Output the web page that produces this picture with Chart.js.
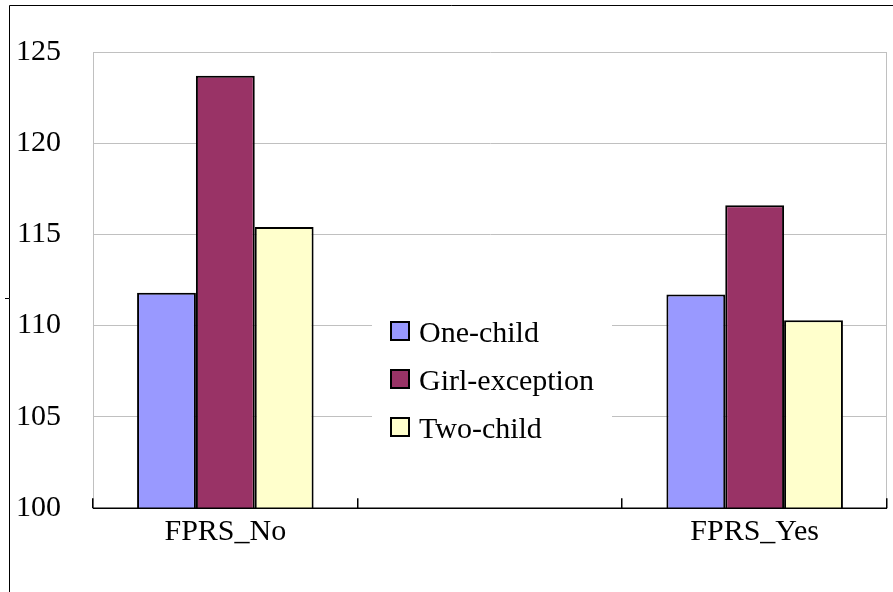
<!DOCTYPE html>
<html>
<head>
<meta charset="utf-8">
<script src="https://cdn.jsdelivr.net/npm/chart.js@4/dist/chart.umd.min.js"></script>
<style>
  html, body { margin: 0; padding: 0; background: #ffffff; }
  #wrap { width: 893px; height: 592px; position: relative; }
</style>
</head>
<body>
<div id="wrap"><canvas id="c" width="893" height="592"></canvas></div>
<script>
// ---- data ----
const categories = ['FPRS_No', '', 'FPRS_Yes'];
const oneChild = [111.8, null, 111.7];
const girlException = [123.7, null, 116.6];
const twoChild = [115.4, null, 110.3];
const seriesNames = ['One-child', 'Girl-exception', 'Two-child'];
const yTicks = [100, 105, 110, 115, 120, 125];

const FONT = '"Liberation Serif", "Times New Roman", serif';
const GRID = '#c0c0c0';

const framePlugin = {
  id: 'frame',
  beforeDraw(chart) {
    const ctx = chart.ctx;
    ctx.save();
    ctx.fillStyle = '#ffffff';
    ctx.fillRect(0, 0, chart.width, chart.height);
    // outer chart border (cropped at right/bottom)
    ctx.strokeStyle = '#000000';
    ctx.lineWidth = 1;
    ctx.beginPath();
    ctx.moveTo(9.5, chart.height);
    ctx.lineTo(9.5, 5.5);
    ctx.lineTo(chart.width, 5.5);
    ctx.stroke();
    ctx.beginPath();
    ctx.moveTo(5, 298.5);
    ctx.lineTo(9, 298.5);
    ctx.stroke();
    ctx.restore();
  },
  beforeDatasetsDraw(chart) {
    const {ctx, chartArea} = chart;
    ctx.save();
    ctx.strokeStyle = GRID;
    ctx.lineWidth = 1;
    ctx.beginPath();
    ctx.moveTo(Math.round(chartArea.right) - 0.5, chartArea.top);
    ctx.lineTo(Math.round(chartArea.right) - 0.5, chartArea.bottom);
    ctx.stroke();
    ctx.restore();
  },
  afterDatasetsDraw(chart) {
    const {ctx, chartArea} = chart;
    const xs = chart.scales.x;
    const n = chart.data.labels.length;
    ctx.save();
    ctx.strokeStyle = '#000000';
    ctx.lineWidth = 1.5;
    const yb = Math.round(chartArea.bottom) + 0.25;
    ctx.beginPath();
    ctx.moveTo(chartArea.left, yb);
    ctx.lineTo(chartArea.right, yb);
    ctx.stroke();
    // inward category tick marks
    ctx.lineWidth = 1.5;
    for (let i = 0; i <= n; i++) {
      const x = Math.round(xs.left + i * xs.width / n) - 0.25;
      ctx.beginPath();
      ctx.moveTo(x, yb);
      ctx.lineTo(x, yb - 10);
      ctx.stroke();
    }
    // legend inside plot area
    const lx = 372, ly = 300, lw = 240, lh = 160;
    ctx.fillStyle = '#ffffff';
    ctx.fillRect(lx, ly, lw, lh);
    ctx.font = '30px ' + FONT;
    ctx.textBaseline = 'alphabetic';
    ctx.textAlign = 'left';
    chart.data.datasets.forEach((ds, i) => {
      const sy = 322 + i * 48;
      ctx.fillStyle = ds.backgroundColor;
      ctx.fillRect(391, sy, 18, 18);
      ctx.strokeStyle = '#000000';
      ctx.lineWidth = 2;
      ctx.strokeRect(391, sy, 18, 18);
      ctx.fillStyle = '#000000';
      ctx.fillText(ds.label, 419, sy + 20);
    });
    ctx.restore();
  }
};

new Chart(document.getElementById('c'), {
  type: 'bar',
  data: {
    labels: categories,
    datasets: [
      { label: seriesNames[0], data: oneChild, backgroundColor: '#9999FF', borderColor: '#000000', borderWidth: 2 },
      { label: seriesNames[1], data: girlException, backgroundColor: '#993366', borderColor: '#000000', borderWidth: 2 },
      { label: seriesNames[2], data: twoChild, backgroundColor: '#FFFFCC', borderColor: '#000000', borderWidth: 2 }
    ]
  },
  options: {
    responsive: false,
    animation: false,
    devicePixelRatio: 1,
    layout: { padding: { top: 52, right: 6, left: 0, bottom: 0 } },
    datasets: { bar: { categoryPercentage: 0.667, barPercentage: 1.0 } },
    plugins: {
      legend: { display: false },
      title: { display: false },
      tooltip: { enabled: false }
    },
    scales: {
      x: {
        offset: true,
        grid: { display: false, drawOnChartArea: false, drawTicks: false },
        border: { display: false },
        ticks: { color: '#000000', font: { family: FONT, size: 30 }, padding: 6, maxRotation: 0, autoSkip: false },
        afterFit(scale) { scale.height = 84; }
      },
      y: {
        min: yTicks[0],
        max: yTicks[yTicks.length - 1],
        afterBuildTicks(scale) { scale.ticks = yTicks.map(v => ({ value: v })); },
        grid: {
          color: ctx => (ctx.tick && ctx.tick.value === yTicks[0]) ? 'rgba(0,0,0,0)' : GRID,
          lineWidth: 1,
          drawTicks: false
        },
        border: { display: true, color: GRID, width: 1 },
        ticks: { color: '#000000', font: { family: FONT, size: 30 }, padding: 32 },
        afterFit(scale) { scale.width = 93; }
      }
    }
  },
  plugins: [framePlugin]
});
</script>
</body>
</html>
